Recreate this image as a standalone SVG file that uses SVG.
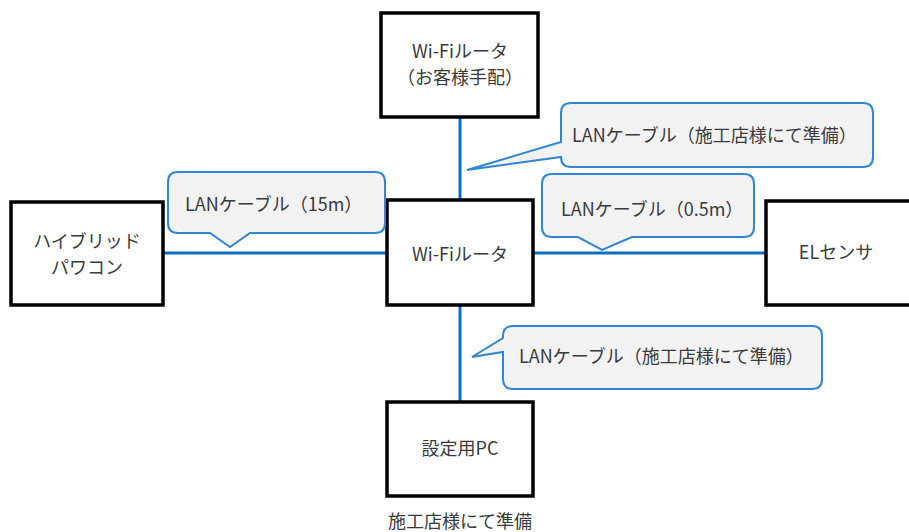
<svg xmlns="http://www.w3.org/2000/svg" width="909" height="532" viewBox="0 0 909 532">
<style>
.box{fill:#fff;stroke:#000;stroke-width:3.5}
.wire{stroke:#0a6fc2;stroke-width:3;fill:none}
.call{fill:#f2f2f2;stroke:#2f86d2;stroke-width:2}
text{font-family:"Noto Sans CJK JP","Noto Sans",sans-serif;font-size:18px;fill:#3a3a3a;dominant-baseline:central}
.c{text-anchor:middle}
</style>
<rect width="909" height="532" fill="#fff"/>
<g id="connectors">
<line class="wire" x1="163" y1="253" x2="387" y2="253"/>
<line class="wire" x1="533" y1="253" x2="766" y2="253"/>
<line class="wire" x1="460" y1="118" x2="460" y2="200"/>
<line class="wire" x1="460" y1="305" x2="460" y2="402"/>
</g>
<g id="node-router-client">
<rect class="box" x="381" y="13" width="157" height="104"/>
<text class="c" x="460" y="50">Wi-Fiルータ</text>
<text class="c" x="460" y="76">（お客様手配）</text>
</g>
<g id="node-router">
<rect class="box" x="387" y="200" width="146" height="105"/>
<text class="c" x="460" y="253">Wi-Fiルータ</text>
</g>
<g id="node-hybrid">
<rect class="box" x="11" y="202" width="152" height="103"/>
<text class="c" x="87" y="240">ハイブリッド</text>
<text class="c" x="87" y="266">パワコン</text>
</g>
<g id="node-el">
<rect class="box" x="766" y="201" width="150" height="104"/>
<text class="c" x="836" y="251">ELセンサ</text>
</g>
<g id="node-pc">
<rect class="box" x="387" y="402" width="146" height="94"/>
<text class="c" x="460" y="447">設定用PC</text>
<text class="c" x="460" y="520">施工店様にて準備</text>
</g>
<g id="callout-top">
<path class="call" d="M571,103 H863 Q873,103 873,113 V157 Q873,167 863,167 H571 Q561,167 561,157 L467,170 L561,142 V113 Q561,103 571,103 Z"/>
<text x="572" y="134">LANケーブル（施工店様にて準備）</text>
</g>
<g id="callout-left">
<path class="call" d="M178,172 H375 Q385,172 385,182 V223 Q385,233 375,233 H250 L230,247 L210,233 H178 Q168,233 168,223 V182 Q168,172 178,172 Z"/>
<text x="185" y="203">LANケーブル（15m）</text>
</g>
<g id="callout-right">
<path class="call" d="M552,174 H744 Q754,174 754,184 V227 Q754,237 744,237 H632 L602,250 L578,237 H552 Q542,237 542,227 V184 Q542,174 552,174 Z"/>
<text x="561" y="208">LANケーブル（0.5m）</text>
</g>
<g id="callout-bottom">
<path class="call" d="M513,326 H812 Q822,326 822,336 V379 Q822,389 812,389 H513 Q503,389 503,379 V352 L472,357 L503,338 V336 Q503,326 513,326 Z"/>
<text x="519" y="355">LANケーブル（施工店様にて準備）</text>
</g>
</svg>
